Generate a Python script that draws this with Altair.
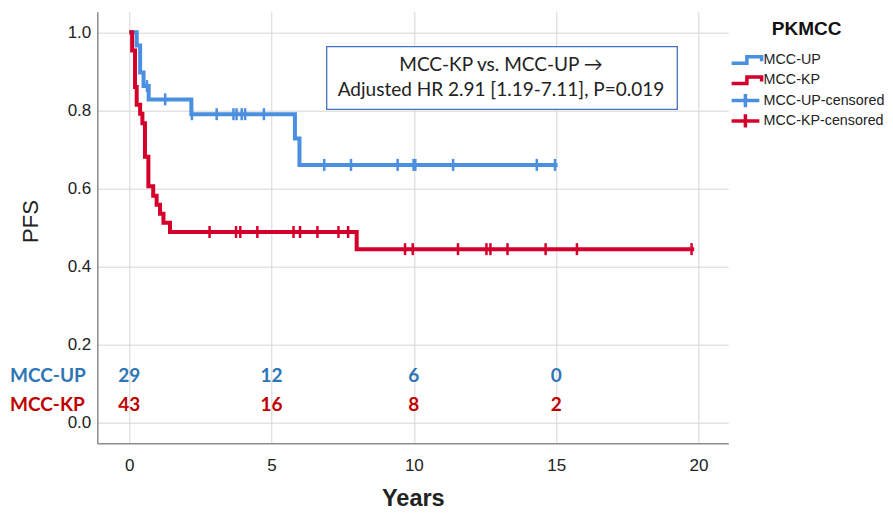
import altair as alt
import pandas as pd

# ---------------- data ----------------
# MCC-UP (blue) Kaplan-Meier step points: time (years) and PFS after each step
UP_TIMES = [0, 0.26, 0.38, 0.50, 0.68, 2.18, 5.82, 5.98, 15.05]
UP_SURV = [1.0, 0.966, 0.897, 0.862, 0.828, 0.790, 0.728, 0.660, 0.660]
UP_CENSOR = [0.62, 1.26, 2.20, 3.07, 3.66, 3.77, 3.95, 4.07, 4.73,
             6.85, 7.79, 9.43, 9.99, 10.05, 11.38, 14.32, 14.96]

# MCC-KP (red)
KP_TIMES = [0, 0.10, 0.20, 0.26, 0.38, 0.46, 0.55, 0.67, 0.84, 0.96, 1.08, 1.20, 1.43, 7.99, 19.85]
KP_SURV = [1.0, 0.953, 0.860, 0.814, 0.791, 0.767, 0.681, 0.605, 0.581, 0.558, 0.535, 0.512, 0.488, 0.444, 0.444]
KP_CENSOR = [2.82, 3.75, 3.90, 4.50, 5.77, 6.00, 6.61, 7.35, 7.69,
             9.69, 9.96, 11.55, 12.55, 12.69, 13.29, 14.63, 15.73, 19.76]

# Numbers at risk
RISK_YEARS = [0, 5, 10, 15]
UP_RISK = [29, 12, 6, 0]
KP_RISK = [43, 16, 8, 2]

SERIES = ["MCC-UP", "MCC-KP", "MCC-UP-censored", "MCC-KP-censored"]
X_TICKS = [0, 5, 10, 15, 20]
Y_TICKS = [0.0, 0.2, 0.4, 0.6, 0.8, 1.0]
ANNOT = "MCC-KP vs. MCC-UP \u2192\nAdjusted HR 2.91 [1.19-7.11], P=0.019"

# ---------------- styling ----------------
BLUE_LINE = "#4A8FE0"
RED_LINE = "#D4002B"
BLUE_TXT = "#2E75B6"
RED_TXT = "#C00000"
FONT = "Liberation Sans"
TFONT = "Lato"

STEP_PATH = "M-1,0.22 H0.02 V-0.22 H1 V0.08"
PLUS_PATH = "M-1,0 H0.85 M-0.08,-0.44 V0.44"


def curve_df(times, surv):
    return pd.DataFrame({"t": times, "s": surv})


def censor_df(times, surv, ctimes):
    levels = []
    for c in ctimes:
        lvl = surv[0]
        for t, s in zip(times, surv):
            if t <= c:
                lvl = s
        levels.append(lvl)
    return pd.DataFrame({"t": ctimes, "s": levels})


xs = alt.Scale(domain=[-1.125, 21.05], nice=False, zero=False)
ys = alt.Scale(domain=[-0.0538, 1.0528], nice=False, zero=False)

x_axis = alt.Axis(values=X_TICKS, title="Years", grid=True, ticks=False, tickSize=0,
                  labelPadding=14, labelFontSize=17, labelFont=FONT, labelColor="#222222",
                  labelAngle=0, labelFlush=False,
                  titleFont=FONT, titleFontSize=23.5, titleFontWeight="bold",
                  titleColor="#222222", titlePadding=13,
                  domainColor="#8c8c8c", domainWidth=1.5,
                  gridColor="#d5d5d5", gridWidth=1)
y_axis = alt.Axis(values=Y_TICKS, format=".1f", title="PFS", grid=True, ticks=False, tickSize=0,
                  labelPadding=6.5, labelFontSize=17, labelFont=FONT, labelColor="#222222",
                  titleFont=FONT, titleFontSize=22, titleFontWeight="normal",
                  titleColor="#222222", titleX=-60.3, titleY=209.3,
                  titleAlign="center", titleBaseline="alphabetic", titleAngle=270,
                  domainColor="#8c8c8c", domainWidth=1.5,
                  gridColor="#d5d5d5", gridWidth=1)


def line_layer(times, surv, color, with_axes=False):
    if with_axes:
        x = alt.X("t:Q", scale=xs, axis=x_axis)
        y = alt.Y("s:Q", scale=ys, axis=y_axis)
    else:
        x = alt.X("t:Q", scale=xs)
        y = alt.Y("s:Q", scale=ys)
    return alt.Chart(curve_df(times, surv)).mark_line(
        interpolate="step-after", color=color, strokeWidth=4, strokeJoin="miter", strokeCap="butt"
    ).encode(x=x, y=y)


def tick_layer(times, surv, ctimes, color):
    return alt.Chart(censor_df(times, surv, ctimes)).mark_tick(
        orient="vertical", size=12, thickness=2.5, color=color, opacity=1
    ).encode(x=alt.X("t:Q", scale=xs), y=alt.Y("s:Q", scale=ys))


blue_line = line_layer(UP_TIMES, UP_SURV, BLUE_LINE, with_axes=True)
red_line = line_layer(KP_TIMES, KP_SURV, RED_LINE)
blue_ticks = tick_layer(UP_TIMES, UP_SURV, UP_CENSOR, BLUE_LINE)
red_ticks = tick_layer(KP_TIMES, KP_SURV, KP_CENSOR, RED_LINE)

leg = alt.Legend(title="PKMCC", orient="none", legendX=632.3, legendY=8.3,
                 titleFont=FONT, titleFontSize=19, titleFontWeight="bold", titleColor="#111111",
                 titleAnchor="middle", titlePadding=11,
                 labelFont=FONT, labelFontSize=14.3, labelColor="#222222", labelOffset=0,
                 symbolSize=900, symbolStrokeWidth=3.5, symbolOpacity=1,
                 clipHeight=20, rowPadding=0.3, padding=0)

legend_layer = alt.Chart(pd.DataFrame({"series": SERIES})).mark_point(
    filled=False, opacity=1, strokeWidth=3.5
).encode(
    color=alt.Color("series:N", scale=alt.Scale(domain=SERIES, range=[BLUE_LINE, RED_LINE, BLUE_LINE, RED_LINE]), legend=leg),
    shape=alt.Shape("series:N", scale=alt.Scale(domain=SERIES, range=[STEP_PATH, STEP_PATH, PLUS_PATH, PLUS_PATH]), legend=leg),
).transform_filter("false")

one = pd.DataFrame({"lab": [ANNOT]})
box = alt.Chart(one).mark_rect(fill="white", stroke="#4472C4", strokeWidth=1.3).encode(
    x=alt.value(229.4), x2=alt.value(580), y=alt.value(35), y2=alt.value(97.6)
)
annot = alt.Chart(one).mark_text(
    font=TFONT, fontSize=19, color="#222222", align="center", baseline="middle",
    lineBreak="\n", lineHeight=25
).encode(x=alt.value(403.7), y=alt.value(53.3), text="lab:N")


def risk_layer(counts, color, ypix):
    df = pd.DataFrame({"t": RISK_YEARS, "n": counts})
    return alt.Chart(df).mark_text(
        font=TFONT, fontSize=19, fontWeight="bold", color=color, align="center", baseline="middle"
    ).encode(x=alt.X("t:Q", scale=xs), y=alt.value(ypix), text="n:Q")


def row_label(label, color, ypix):
    return alt.Chart(pd.DataFrame({"lab": [label]})).mark_text(
        font=TFONT, fontSize=19, fontWeight="bold", color=color, align="left", baseline="middle"
    ).encode(x=alt.value(-87.3), y=alt.value(ypix), text="lab:N")


up_risk = risk_layer(UP_RISK, BLUE_TXT, 364.3)
kp_risk = risk_layer(KP_RISK, RED_TXT, 393.3)
up_lab = row_label("MCC-UP", BLUE_TXT, 364.3)
kp_lab = row_label("MCC-KP", RED_TXT, 393.3)

chart = alt.layer(
    blue_line, red_line, blue_ticks, red_ticks, legend_layer,
    box, annot, up_risk, kp_risk, up_lab, kp_lab
).properties(
    width=631, height=431.6,
    padding={"left": 89.3, "top": 3.7, "right": 156.7, "bottom": 68.7},
    autosize=alt.AutoSizeParams(type="none"),
    background="white",
).configure_view(stroke=None)

chart.save("out.html", embed_options={"renderer": "svg", "actions": False})
